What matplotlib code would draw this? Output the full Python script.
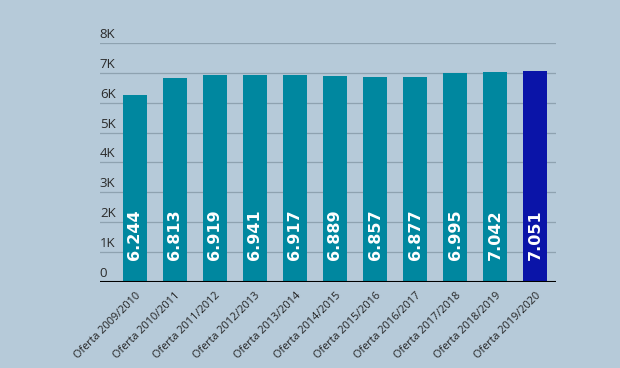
import matplotlib
matplotlib.use("Agg")
import matplotlib.pyplot as plt
import matplotlib.transforms as mtransforms
import numpy as np

# data
categories = ["Oferta 2009/2010", "Oferta 2010/2011", "Oferta 2011/2012",
              "Oferta 2012/2013", "Oferta 2013/2014", "Oferta 2014/2015",
              "Oferta 2015/2016", "Oferta 2016/2017", "Oferta 2017/2018",
              "Oferta 2018/2019", "Oferta 2019/2020"]
plazas = [6244, 6813, 6919, 6941, 6917, 6889, 6857, 6877, 6995, 7042, 7051]
value_labels = ["6.244", "6.813", "6.919", "6.941", "6.917", "6.889",
                "6.857", "6.877", "6.995", "7.042", "7.051"]
y_ticks = [0, 1000, 2000, 3000, 4000, 5000, 6000, 7000, 8000]
y_tick_labels = ["0", "1K", "2K", "3K", "4K", "5K", "6K", "7K", "8K"]

bg = "#b6cad9"
teal = "#00879f"
highlight = "#0a14a8"

plt.rcParams["font.family"] = ["Open Sans", "DejaVu Sans"]

fig = plt.figure(figsize=(6.2, 3.68), dpi=100, facecolor=bg)
ax = fig.add_axes([0.161, 0.234, 0.736, 0.649])
ax.set_facecolor(bg)

x = np.arange(len(categories))
colors = [teal] * (len(categories) - 1) + [highlight]
ax.bar(x, plazas, width=0.6, color=colors, zorder=2)

ax.set_xlim(-0.875, 10.525)
ax.set_ylim(0, 8000)

# gridlines with labels sitting just above them
ytrans = mtransforms.blended_transform_factory(ax.transAxes, ax.transData)
for v, lab in zip(y_ticks, y_tick_labels):
    if v > 0:
        ax.axhline(v, color="#8ea2b0", lw=0.9, zorder=1)
    ax.annotate(lab, xy=(0, v), xycoords=ytrans,
                xytext=(0, 1.5), textcoords="offset points", ha="left", va="bottom",
                fontsize=9.5, color="#2b2b2b")
ax.axhline(0, color="black", lw=1.5, zorder=3)

# values inside bars
for xi, lab in zip(x, value_labels):
    ax.annotate(lab, xy=(xi, 0), xytext=(0, 16), textcoords="offset points",
                rotation=90, ha="center", va="bottom", color="white",
                fontsize=11.5, fontweight="bold", family="DejaVu Sans", zorder=4)

ax.set_yticks([])
ax.set_xticks(x)
ax.set_xticklabels(categories, rotation=45, ha="right", rotation_mode="anchor",
                   fontsize=7.8, color="#222222")
ax.tick_params(axis="x", length=0, pad=6)
for s in ax.spines.values():
    s.set_visible(False)

fig.savefig("out.png", dpi=100, facecolor=bg)
